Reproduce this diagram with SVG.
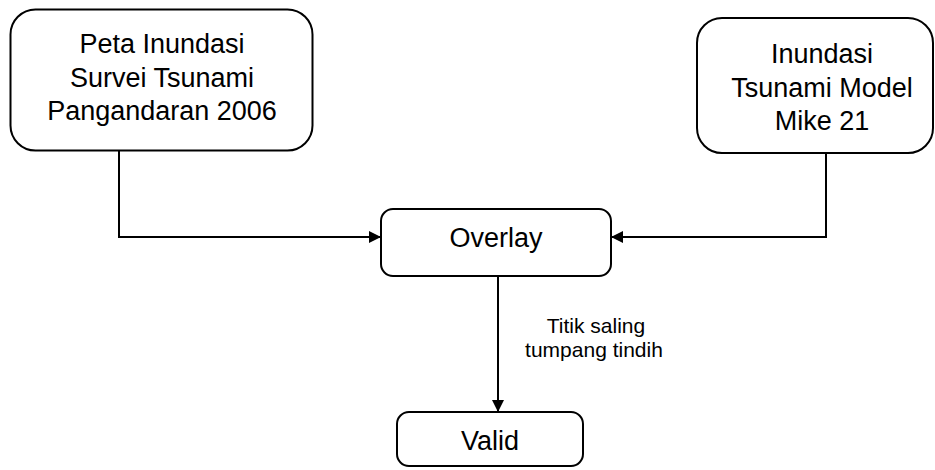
<svg xmlns="http://www.w3.org/2000/svg" width="935" height="470" viewBox="0 0 935 470">
  <style>
    .box { fill: #ffffff; stroke: #000000; stroke-width: 2; }
    .lbl { font-family: "Liberation Sans", Arial, sans-serif; font-size: 27px; fill: #000000; text-anchor: middle; }
    .note { font-family: "Liberation Sans", Arial, sans-serif; font-size: 21px; fill: #000000; text-anchor: middle; }
    .wire { fill: none; stroke: #000000; stroke-width: 2; }
  </style>
  <defs>
    <marker id="arrow" viewBox="0 0 12 12" refX="12" refY="6" markerWidth="12" markerHeight="12" markerUnits="userSpaceOnUse" orient="auto">
      <path d="M0,0 L12,6 L0,12 Z" fill="#000000"/>
    </marker>
  </defs>
  <rect width="935" height="470" fill="#ffffff"/>

  <g id="connectors">
    <path class="wire" d="M119,151 V237 H381" marker-end="url(#arrow)"/>
    <path class="wire" d="M826,153 V237 H611" marker-end="url(#arrow)"/>
    <path class="wire" d="M498,276 V412" marker-end="url(#arrow)"/>
    <text class="note" x="596" y="333">Titik saling</text>
    <text class="note" x="594" y="357">tumpang tindih</text>
  </g>

  <g id="peta-survei">
    <rect class="box" x="10.5" y="9.5" width="302" height="141" rx="25"/>
    <text class="lbl" x="162" y="53">Peta Inundasi</text>
    <text class="lbl" x="162" y="87">Survei Tsunami</text>
    <text class="lbl" x="162" y="120">Pangandaran 2006</text>
  </g>

  <g id="model-mike21">
    <rect class="box" x="697" y="18" width="236" height="135" rx="25"/>
    <text class="lbl" x="822" y="63">Inundasi</text>
    <text class="lbl" x="822" y="97">Tsunami Model</text>
    <text class="lbl" x="822" y="130">Mike 21</text>
  </g>

  <g id="overlay">
    <rect class="box" x="381" y="209" width="230" height="67" rx="12"/>
    <text class="lbl" x="496" y="247">Overlay</text>
  </g>

  <g id="valid">
    <rect class="box" x="397" y="412" width="186" height="54" rx="12"/>
    <text class="lbl" x="490" y="450">Valid</text>
  </g>
</svg>
